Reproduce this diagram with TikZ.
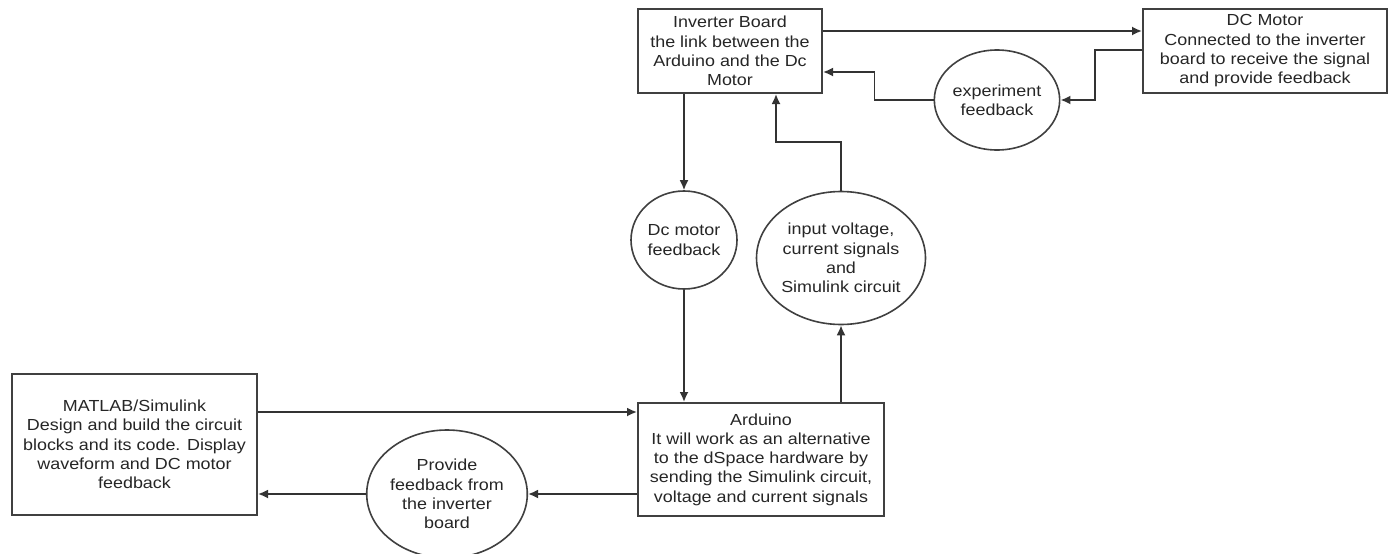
\documentclass[tikz,border=0pt]{standalone}
\usepackage{fontspec}
\setmainfont{Liberation Sans}[FakeStretch=1.12]
\usetikzlibrary{arrows.meta,shapes.geometric,calc}
\begin{document}
\begin{tikzpicture}[x=1pt,y=-1pt,
  every node/.style={font=\fontsize{16}{19.3}\selectfont, text=black!85, align=center, inner sep=0pt},
  boxn/.style={draw=black!75, line width=2pt, rectangle},
  circn/.style={draw=black!75, line width=1.6pt, ellipse},
  arr/.style={draw=black!80, line width=1.8pt, -{Latex[length=10pt,width=9pt]}}]
\useasboundingbox (0,0) rectangle (1392,554);
\fill[white] (0,0) rectangle (1392,554);
% boxes
\node[boxn, minimum width=184pt, minimum height=84pt] (inv) at (730,51)
  {Inverter Board\\the link between the\\Arduino and the Dc\\Motor};
\node[boxn, minimum width=244pt, minimum height=84pt] (dc) at (1265,51)
  {DC Motor\\Connected to the inverter\\board to receive the signal\\and provide feedback};
\node[boxn, minimum width=246pt, minimum height=113pt] (ard) at (761,459.5)
  {Arduino\\It will work as an alternative\\to the dSpace hardware by\\sending the Simulink circuit,\\voltage and current signals};
\node[boxn, minimum width=245pt, minimum height=141pt] (mat) at (134.5,444.5)
  {MATLAB/Simulink\\Design and build the circuit\\blocks and its code. Display\\waveform and DC motor\\feedback};
% ellipses
\node[circn, minimum width=108pt, minimum height=100pt] (exp) at (997,100)
  {experiment\\feedback};
\node[circn, minimum width=106pt, minimum height=98pt] (dcfb) at (684,240)
  {Dc motor\\feedback};
\node[circn, minimum width=147pt, minimum height=133pt] (inp) at (841,258)
  {input voltage,\\current signals\\and\\Simulink circuit};
\node[circn, minimum width=140pt, minimum height=128pt] (prov) at (447,494)
  {Provide\\feedback from\\the inverter\\board};
% connectors
\draw[arr] ([yshift=20pt]inv.east) -- ([yshift=20pt]inv.east -| dc.west);
\draw[arr] ([yshift=1pt]dc.west) -- ++(-47,0) |- (exp.east);
\draw[arr] (exp.west) -- ++(-59,0) |- ([yshift=-21pt]inv.east);
\draw[arr] (inv.south -| dcfb.north) -- (dcfb.north);
\draw[arr] (dcfb.south) -- (dcfb.south |- ard.north);
\draw[arr] (inp.south |- ard.north) -- (inp.south);
\draw[arr] (inp.north) -- ++(0,-49) -| ([xshift=46pt]inv.south);
\draw[arr] ([yshift=32.5pt]mat.east) -- ([yshift=32.5pt]mat.east -| ard.west);
\draw[arr] (prov.east -| ard.west) -- (prov.east);
\draw[arr] (prov.west) -- (prov.west -| mat.east);
\end{tikzpicture}
\end{document}
